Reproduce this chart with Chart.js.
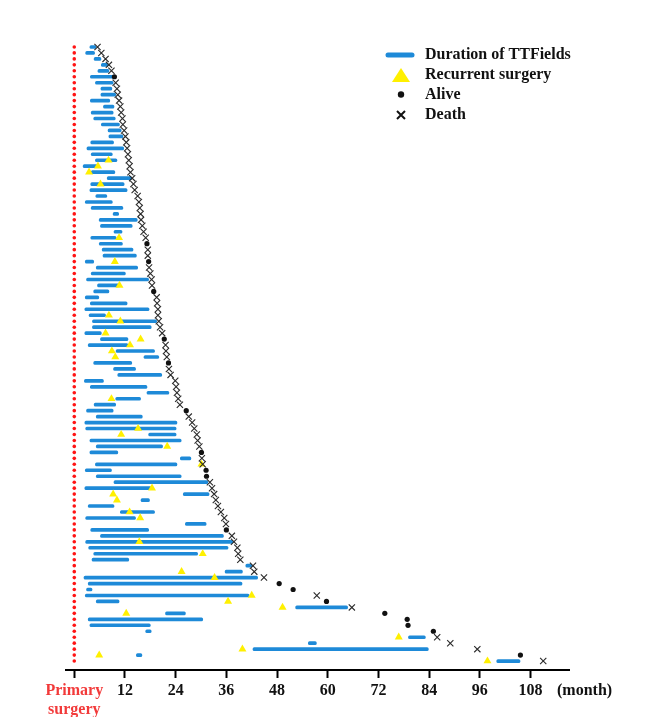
<!DOCTYPE html>
<html>
<head>
<meta charset="utf-8">
<script src="https://cdn.jsdelivr.net/npm/chart.js@4/dist/chart.umd.min.js"></script>
<style>
  html, body { margin: 0; padding: 0; background: #fff; }
  #wrap { width: 646px; height: 717px; position: relative; }
</style>
</head>
<body>
<div id="wrap"><canvas id="swimmer"></canvas></div>
<script>
// Months from primary surgery, one entry per patient (top row first)
const tStart = [3.7, 2.7, 4.7, 6.4, 5.6, 3.8, 5.0, 6.3, 6.3, 3.8,
  6.9, 4.0, 4.6, 6.4, 8.0, 8.2, 3.9, 3.0, 4.0, 5.0,
  2.1, 4.0, 7.8, 3.9, 3.7, 5.1, 2.6, 4.0, 9.2, 5.9,
  6.2, 9.4, 3.9, 5.9, 6.6, 6.8, 2.6, 5.2, 4.0, 2.9,
  5.5, 4.6, 2.6, 3.8, 2.5, 3.5, 4.3, 4.3, 2.5, 6.2,
  3.3, 9.9, 16.5, 4.6, 9.3, 10.3, 2.4, 3.8, 17.2, 9.8,
  4.7, 2.9, 5.2, 2.5, 2.7, 17.6, 3.7, 5.2, 3.7, 25.1,
  5.0, 2.6, 5.2, 9.4, 2.5, 25.8, 15.8, 3.3, 10.9, 2.7,
  26.3, 3.9, 6.2, 2.7, 3.4, 4.6, 4.2, 40.6, 35.7, 2.3,
  3.3, 2.9, 2.6, 5.2, 52.4, 21.6, 3.3, 3.7, 16.9, 79.1,
  55.4, 42.3, 14.7, 100.0];
const tEnd = [5.1, 4.8, 6.3, 8.0, 8.2, 9.3, 9.2, 8.9, 9.8, 8.4,
  9.4, 9.2, 9.7, 10.7, 11.1, 11.5, 9.3, 11.7, 9.0, 10.1,
  5.6, 9.6, 13.6, 11.8, 12.5, 7.7, 9.0, 11.5, 10.5, 14.9,
  13.7, 11.3, 9.9, 11.4, 13.9, 14.7, 4.6, 15.0, 12.1, 17.6,
  10.6, 8.2, 5.8, 12.5, 17.7, 7.4, 19.5, 18.2, 6.4, 12.7,
  12.7, 19.0, 20.0, 13.6, 14.5, 20.7, 6.9, 17.2, 22.4, 15.7,
  9.8, 9.2, 16.1, 24.3, 24.1, 24.1, 25.3, 20.9, 10.3, 27.6,
  24.3, 8.8, 25.3, 31.6, 18.2, 31.9, 17.8, 9.4, 19.0, 14.5,
  31.2, 17.6, 35.3, 37.5, 36.4, 29.2, 12.9, 42.0, 39.8, 43.4,
  39.7, 4.2, 41.4, 10.6, 64.7, 26.3, 30.4, 18.0, 18.2, 83.1,
  57.3, 83.8, 16.0, 105.5];
// Recurrent surgery (null = none)
const surgery = [null, null, null, null, null, null, null, null, null, null,
  null, null, null, null, null, null, null, null, null, 8.1,
  5.6, 3.5, null, 6.2, null, null, null, null, null, null,
  null, null, 10.6, null, null, null, 9.6, null, null, null,
  10.7, null, null, null, null, 8.2, 10.9, null, 7.4, 15.7,
  13.2, 8.9, 9.7, null, null, null, null, null, null, 8.8,
  null, null, null, null, 15.1, 11.1, null, 22.0, null, null,
  30.1, null, null, null, 18.4, 9.2, 10.1, null, 13.1, 15.6,
  null, null, null, 15.4, null, 30.4, null, null, 25.4, 33.2,
  null, null, 42.0, 36.4, 49.3, 12.3, null, null, null, 76.8,
  null, 39.8, 5.9, 97.8];
// Overall survival / last follow-up and status (1 = alive, 0 = death)
const survival = [5.5, 6.4, 7.4, 8.2, 8.8, 9.5, 9.8, 10.1, 10.3, 10.6,
  10.9, 11.1, 11.4, 11.5, 11.8, 12.1, 12.3, 12.5, 12.7, 12.9,
  13.1, 13.3, 13.7, 14.0, 14.3, 15.0, 15.3, 15.5, 15.7, 15.8,
  16.1, 16.4, 16.9, 17.2, 17.4, 17.4, 17.6, 17.7, 18.0, 18.3,
  18.4, 18.8, 19.5, 19.6, 19.8, 19.8, 20.0, 20.3, 20.8, 21.3,
  21.6, 21.7, 21.9, 22.3, 22.4, 22.8, 23.9, 24.1, 24.3, 24.6,
  25.0, 26.5, 27.1, 27.9, 28.4, 29.0, 29.2, 29.6, 30.1, 30.2,
  30.4, 31.2, 31.3, 32.1, 32.6, 33.1, 33.5, 34.0, 34.7, 35.5,
  35.9, 36.0, 37.3, 37.8, 38.6, 38.8, 39.3, 42.3, 42.6, 44.9,
  48.5, 51.8, 57.4, 59.7, 65.7, 73.5, 78.8, 79.0, 85.0, 85.9,
  89.0, 95.4, 105.6, 111.0];
const alive = [0, 0, 0, 0, 0, 1, 0, 0, 0, 0,
  0, 0, 0, 0, 0, 0, 0, 0, 0, 0,
  0, 0, 0, 0, 0, 0, 0, 0, 0, 0,
  0, 0, 0, 1, 0, 0, 1, 0, 0, 0,
  0, 1, 0, 0, 0, 0, 0, 0, 0, 1,
  0, 0, 0, 1, 0, 0, 0, 0, 0, 0,
  0, 1, 0, 0, 0, 0, 0, 0, 1, 0,
  0, 1, 1, 0, 0, 0, 0, 0, 0, 0,
  0, 1, 0, 0, 0, 0, 0, 0, 0, 0,
  1, 1, 0, 1, 0, 1, 1, 1, 1, 0,
  0, 0, 1, 0];
const tickMonths = [0, 12, 24, 36, 48, 60, 72, 84, 96, 108];

const SERIF = "'Liberation Serif', 'Times New Roman', serif";
const BLUE = '#1e8ad8';
const YELLOW = '#fff000';
const RED = '#f23a3a';

// datasets built from the arrays above
const rows = tStart.map((_, i) => i);
const barData = rows.map(i => ({ y: i, x: [tStart[i], tEnd[i]] }));
const surgeryData = rows.filter(i => surgery[i] !== null).map(i => ({ x: surgery[i], y: i }));
const aliveData = rows.filter(i => alive[i] === 1).map(i => ({ x: survival[i], y: i }));
const deathData = rows.filter(i => alive[i] === 0).map(i => ({ x: survival[i], y: i }));
const surgeryLine = rows.map(i => ({ x: 0, y: i }));

// legend drawn in the top right of the plot, plus the unit label
const extraText = {
  id: 'extraText',
  afterDraw(chart) {
    const ctx = chart.ctx;
    ctx.save();
    ctx.font = 'bold 16px ' + SERIF;
    ctx.fillStyle = '#111';
    ctx.textBaseline = 'middle';
    ctx.textAlign = 'left';

    // Duration of TTFields
    ctx.strokeStyle = BLUE;
    ctx.lineWidth = 5;
    ctx.lineCap = 'round';
    ctx.beginPath();
    ctx.moveTo(388, 55);
    ctx.lineTo(412, 55);
    ctx.stroke();
    ctx.fillText('Duration of TTFields', 425, 55);

    // Recurrent surgery
    ctx.fillStyle = YELLOW;
    ctx.beginPath();
    ctx.moveTo(401, 68);
    ctx.lineTo(410, 82);
    ctx.lineTo(392, 82);
    ctx.closePath();
    ctx.fill();
    ctx.fillStyle = '#111';
    ctx.fillText('Recurrent surgery', 425, 75);

    // Alive
    ctx.beginPath();
    ctx.arc(401, 94.5, 3.2, 0, Math.PI * 2);
    ctx.fill();
    ctx.fillText('Alive', 425, 95);

    // Death
    ctx.strokeStyle = '#111';
    ctx.lineWidth = 2;
    ctx.lineCap = 'butt';
    ctx.beginPath();
    ctx.moveTo(397, 111); ctx.lineTo(405, 119);
    ctx.moveTo(405, 111); ctx.lineTo(397, 119);
    ctx.stroke();
    ctx.fillText('Death', 425, 115);

    ctx.fillText('(month)', 557, 691);
    ctx.restore();
  }
};

const ctx = document.getElementById('swimmer').getContext('2d');
new Chart(ctx, {
  type: 'scatter',
  data: {
    datasets: [
      {
        type: 'scatter',
        label: 'Death',
        data: deathData,
        pointStyle: 'crossRot',
        pointRadius: 4.4,
        borderColor: '#2a2a2a',
        borderWidth: 1.1,
        order: 1
      },
      {
        type: 'scatter',
        label: 'Alive',
        data: aliveData,
        pointStyle: 'circle',
        pointRadius: 2.6,
        backgroundColor: '#111',
        borderWidth: 0,
        order: 1
      },
      {
        type: 'scatter',
        label: 'Recurrent surgery',
        data: surgeryData,
        pointStyle: 'triangle',
        pointRadius: 4.6,
        backgroundColor: YELLOW,
        borderWidth: 0,
        order: 2
      },
      {
        type: 'scatter',
        label: 'Primary surgery',
        data: surgeryLine,
        pointStyle: 'circle',
        pointRadius: 1.8,
        backgroundColor: '#ff1414',
        borderWidth: 0,
        order: 3
      },
      {
        type: 'bar',
        label: 'Duration of TTFields',
        indexAxis: 'y',
        data: barData,
        backgroundColor: BLUE,
        barThickness: 3,
        borderRadius: 1.5,
        borderSkipped: false,
        order: 4
      }
    ]
  },
  options: {
    responsive: true,
    maintainAspectRatio: false,
    animation: false,
    layout: { padding: { left: 66, right: 77, top: 41, bottom: 0 } },
    scales: {
      x: {
        type: 'linear',
        min: -1.96,
        max: 117.1,
        offset: false,
        afterBuildTicks: s => { s.ticks = tickMonths.map(v => ({ value: v })); },
        afterFit: s => { s.height = 47; },
        grid: { offset: false, drawOnChartArea: false, drawTicks: true, tickLength: 8, tickWidth: 2, tickColor: '#000' },
        border: { display: true, color: '#000', width: 2 },
        ticks: {
          padding: 3,
          maxRotation: 0,
          autoSkip: false,
          font: { family: SERIF, size: 16, weight: 'bold', lineHeight: 1.2 },
          color: c => (c.tick && c.tick.value === 0 ? RED : '#111'),
          callback: v => (v === 0 ? ['Primary', 'surgery'] : String(v))
        }
      },
      y: {
        type: 'linear',
        min: -1,
        max: 104.5,
        reverse: true,
        offset: false,
        grid: { offset: false },
        display: false
      }
    },
    plugins: {
      legend: { display: false },
      tooltip: { enabled: false }
    }
  },
  plugins: [extraText]
});
</script>
</body>
</html>
